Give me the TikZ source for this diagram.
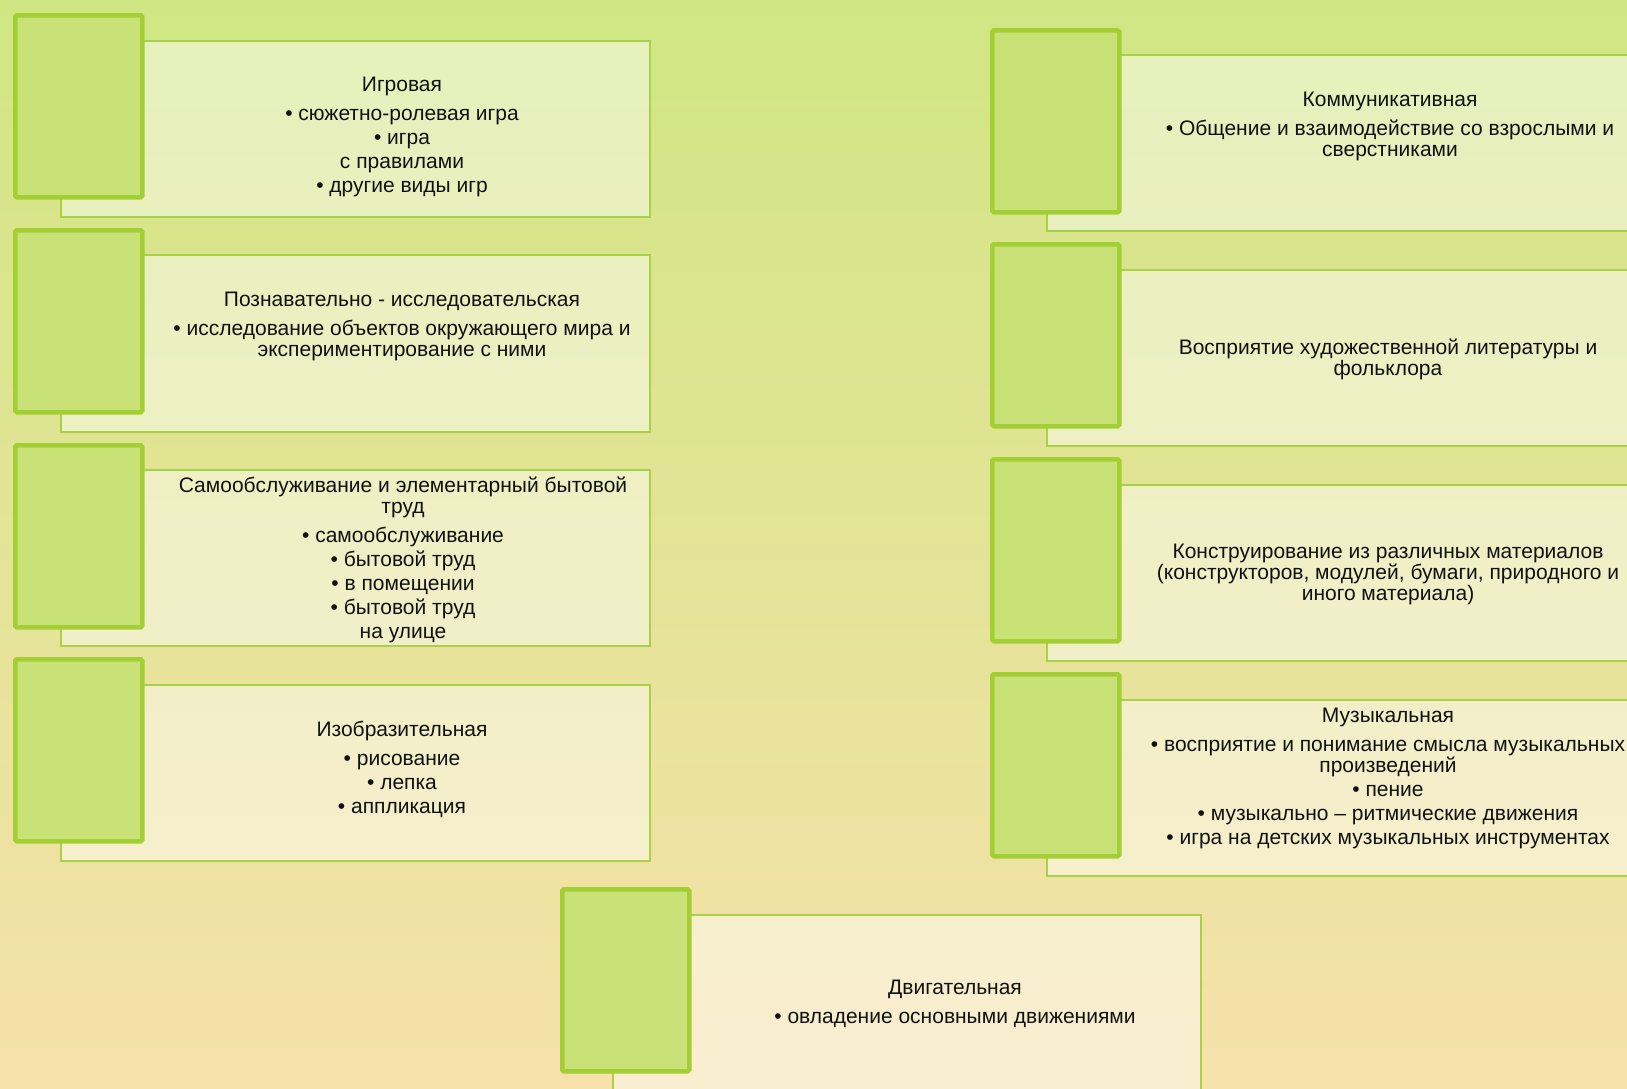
\documentclass[tikz,border=0pt]{standalone}
\usepackage{fontspec}
\setmainfont{Liberation Sans}
\definecolor{bgtop}{HTML}{D0E683}
\definecolor{bgmid}{HTML}{E7F0BE}
\definecolor{bgbot}{HTML}{F6E1AA}
\definecolor{sqfill}{HTML}{C9E277}
\definecolor{sqline}{HTML}{A3CF35}
\definecolor{pline}{HTML}{A9D046}
\definecolor{txtc}{HTML}{111111}
\begin{document}
\begin{tikzpicture}[x=1pt,y=-1pt,
  panel/.style={draw=pline, line width=2.2pt, fill=white, fill opacity=0.45, draw opacity=1, anchor=north west, inner sep=0pt},
  sqbox/.style={draw=sqline, fill=sqfill, line width=4.5pt, rounded corners=1.5pt, anchor=north west, inner sep=0pt, minimum width=127pt, minimum height=182pt},
  txt/.style={font=\fontsize{21}{21}\selectfont, align=center, text=txtc, inner sep=0pt}]
\useasboundingbox (0,0) rectangle (1627,1088);
\clip (0,0) rectangle (1627,1088);
\shade[top color=bgtop, middle color=bgmid, bottom color=bgbot] (0,0) rectangle (1627,1088);

% left column panels
\node[panel, minimum width=589pt, minimum height=176pt] (pl1) at (60,40) {};
\node[panel, minimum width=589pt, minimum height=177pt] (pl2) at (60,254) {};
\node[panel, minimum width=589pt, minimum height=176pt] (pl3) at (60,469) {};
\node[panel, minimum width=589pt, minimum height=176pt] (pl4) at (60,684) {};
% right column panels
\node[panel, minimum width=620pt, minimum height=176pt] (pr1) at (1046,54) {};
\node[panel, minimum width=620pt, minimum height=176pt] (pr2) at (1046,269) {};
\node[panel, minimum width=620pt, minimum height=176pt] (pr3) at (1046,484) {};
\node[panel, minimum width=620pt, minimum height=176pt] (pr4) at (1046,699) {};
% bottom panel
\node[panel, minimum width=588pt, minimum height=190pt] (pb) at (612,914) {};

% squares
\node[sqbox] (sl1) at (13,13) {};
\node[sqbox] (sl2) at (13,228) {};
\node[sqbox] (sl3) at (13,443) {};
\node[sqbox] (sl4) at (13,657) {};
\node[sqbox] (sr1) at (990,28) {};
\node[sqbox] (sr2) at (990,242) {};
\node[sqbox] (sr3) at (990,457) {};
\node[sqbox] (sr4) at (990,672) {};
\node[sqbox] (sb) at (560,887) {};

% texts
\node[txt] (tl1) at (402,137) {Игровая\\[8pt]• сюжетно-ролевая игра\\[3pt]• игра\\[3pt]с правилами\\[3pt]• другие виды игр};
\node[txt] (tl2) at (402,326) {Познавательно - исследовательская\\[8pt]• исследование объектов окружающего мира и\\экспериментирование с ними};
\node[txt] (tl3) at (403,560) {Самообслуживание и элементарный бытовой\\труд\\[8pt]• самообслуживание\\[3pt]• бытовой труд\\[3pt]• в помещении\\[3pt]• бытовой труд\\[3pt]на улице};
\node[txt] (tl4) at (402,769) {Изобразительная\\[8pt]• рисование\\[3pt]• лепка\\[3pt]• аппликация};
\node[txt] (tr1) at (1390,126) {Коммуникативная\\[8pt]• Общение и взаимодействие со взрослыми и\\сверстниками};
\node[txt] (tr2) at (1388,359) {Восприятие художественной литературы и\\фольклора};
\node[txt] (tr3) at (1388,574) {Конструирование из различных материалов\\(конструкторов, модулей, бумаги, природного и\\иного материала)};
\node[txt] (tr4) at (1388,778) {Музыкальная\\[8pt]• восприятие и понимание смысла музыкальных\\произведений\\[3pt]• пение\\[3pt]• музыкально – ритмические движения\\[3pt]• игра на детских музыкальных инструментах};
\node[txt] (tb) at (955,1004) {Двигательная\\[8pt]• овладение основными движениями};
\end{tikzpicture}
\end{document}
